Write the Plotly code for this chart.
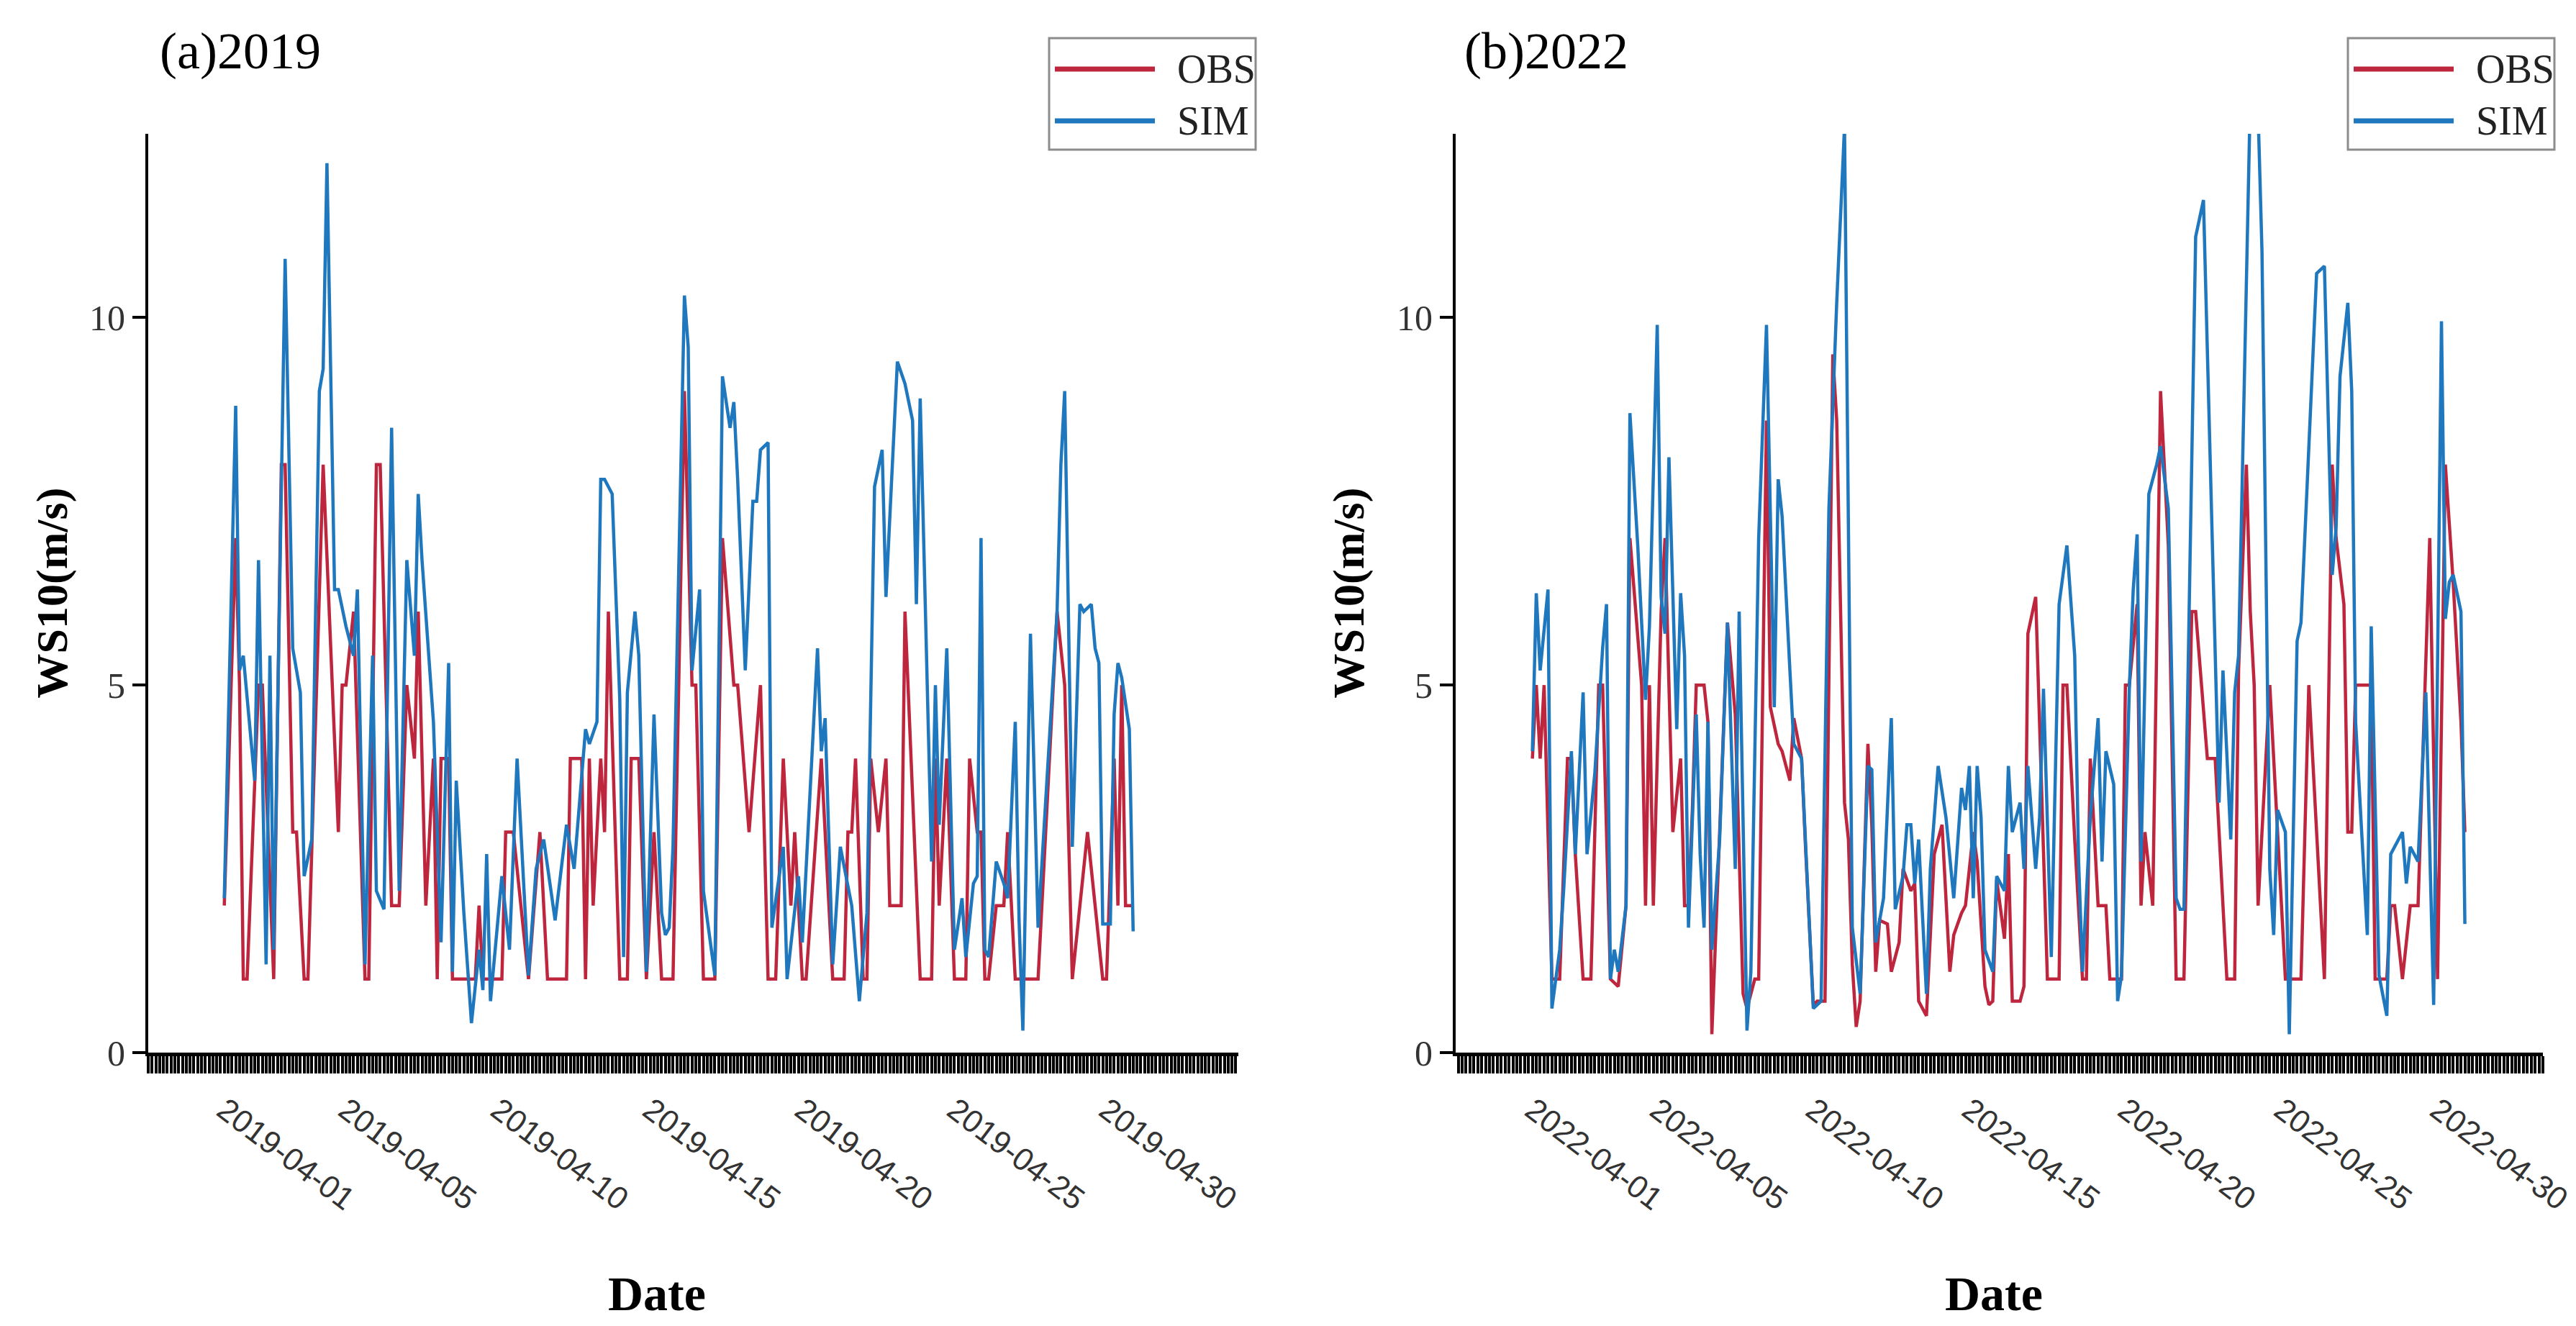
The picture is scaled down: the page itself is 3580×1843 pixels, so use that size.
import pandas as pd
import plotly.graph_objects as go

W, H = 3580, 1843
STEP_H = 3  # hours between two samples, step 0 = 04-01 00:00

RED = "rgb(190,38,62)"
BLUE = "rgb(31,119,190)"

# (step, wind speed m/s)
obs_2019 = [(0, 2), (3, 7), (4, 5), (5, 1), (6, 1), (9, 5), (10, 5), (13, 1), (15, 8), (16, 8),
            (18, 3), (19, 3), (21, 1), (22, 1), (26, 8), (30, 3), (31, 5), (32, 5), (34, 6), (37, 1),
            (38, 1), (40, 8), (41, 8), (44, 2), (46, 2), (48, 5), (50, 4), (51, 6), (53, 2), (55, 4),
            (56, 1), (57, 4), (59, 4), (60, 1), (63, 1), (66, 1), (67, 2), (68, 1), (73, 1), (74, 3),
            (76, 3), (80, 1), (83, 3), (85, 1), (90, 1), (91, 4), (94, 4), (95, 1), (96, 4), (97, 2),
            (99, 4), (100, 3), (101, 6), (104, 1), (106, 1), (107, 4), (109, 4), (111, 1), (113, 3), (115, 1),
            (118, 1), (121, 9), (123, 5), (124, 5), (126, 1), (129, 1), (131, 7), (134, 5), (135, 5), (138, 3),
            (141, 5), (143, 1), (145, 1), (147, 4), (149, 2), (150, 3), (152, 1), (153, 1), (157, 4), (160, 1),
            (163, 1), (164, 3), (165, 3), (166, 4), (168, 1), (169, 1), (170, 4), (172, 3), (174, 4), (175, 2),
            (178, 2), (179, 6), (183, 1), (186, 1), (187, 4), (188, 2), (190, 4), (192, 1), (195, 1), (196, 4),
            (198, 3), (199, 3), (200, 1), (201, 1), (203, 2), (205, 2), (206, 3), (208, 1), (209, 1), (214, 1),
            (219, 6), (221, 5), (223, 1), (225, 2), (227, 3), (231, 1), (232, 1), (234, 4), (235, 2), (236, 5),
            (237, 2), (239, 2)]

sim_2019 = [(0, 2.1), (3, 8.8), (4, 5.2), (5, 5.4), (8, 3.7), (9, 6.7), (11, 1.2), (12, 5.4), (13, 1.4), (16, 10.8),
            (18, 5.5), (20, 4.9), (21, 2.4), (23, 2.9), (25, 9.0), (26, 9.3), (27, 12.1), (29, 6.3), (30, 6.3), (32, 5.8),
            (34, 5.4), (35, 6.3), (37, 1.2), (39, 5.4), (40, 2.2), (42, 1.95), (44, 8.5), (46, 2.2), (48, 6.7), (50, 5.4),
            (51, 7.6), (52, 6.7), (55, 4.5), (57, 1.5), (59, 5.3), (60, 1.1), (61, 3.7), (63, 1.9), (65, 0.4), (67, 1.4),
            (68, 0.85), (69, 2.7), (70, 0.7), (73, 2.4), (75, 1.4), (77, 4.0), (80, 1.05), (82, 2.5), (84, 2.9), (87, 1.8),
            (90, 3.1), (92, 2.5), (95, 4.4), (96, 4.2), (98, 4.5), (99, 7.8), (100, 7.8), (102, 7.6), (104, 4.8), (105, 1.3),
            (106, 4.9), (108, 6.0), (109, 5.4), (111, 1.1), (113, 4.6), (115, 1.9), (116, 1.6), (117, 1.7), (118, 2.8), (121, 10.3),
            (122, 9.6), (123, 5.2), (125, 6.3), (126, 2.2), (129, 1.05), (131, 9.2), (133, 8.5), (134, 8.85), (135, 7.8), (137, 5.2),
            (139, 7.5), (140, 7.5), (141, 8.2), (143, 8.3), (144, 1.7), (147, 2.8), (148, 1.0), (151, 2.4), (152, 1.5), (156, 5.5),
            (157, 4.1), (158, 4.55), (160, 1.2), (162, 2.8), (165, 2.0), (167, 0.7), (169, 1.9), (171, 7.7), (173, 8.2), (174, 6.2),
            (177, 9.4), (179, 9.1), (181, 8.6), (182, 6.1), (183, 8.9), (186, 2.6), (187, 5.0), (188, 3.1), (190, 5.5), (192, 1.4),
            (194, 2.1), (195, 1.3), (197, 2.3), (198, 2.4), (199, 7.0), (200, 1.4), (201, 1.3), (203, 2.6), (205, 2.3), (206, 2.1),
            (208, 4.5), (209, 1.8), (210, 0.3), (212, 5.7), (214, 1.7), (216, 3.4), (219, 6.0), (220, 8.0), (221, 9.0), (223, 2.8),
            (225, 6.1), (226, 6.0), (228, 6.1), (229, 5.5), (230, 5.3), (231, 1.75), (233, 1.75), (234, 4.6), (235, 5.3), (236, 5.1),
            (238, 4.4), (239, 1.65)]

obs_2022 = [(0, 4), (1, 5), (2, 4), (3, 5), (5, 1), (7, 1), (9, 4), (10, 4), (11, 2.7), (13, 1),
            (15, 1), (17, 5), (18, 5), (20, 1), (22, 0.9), (24, 2), (25, 7), (28, 5), (29, 2), (30, 5),
            (31, 2), (33, 6), (34, 7), (36, 3), (38, 4), (39, 2), (40, 2), (41, 3.3), (42, 5), (44, 5),
            (45, 4.5), (46, 0.25), (48, 3), (50, 5.85), (52, 4.6), (54, 0.8), (55, 0.6), (57, 1), (58, 1), (60, 8.6),
            (61, 4.7), (63, 4.2), (64, 4.1), (66, 3.7), (67, 4.55), (69, 4.0), (70, 2.8), (72, 0.65), (73, 0.7), (75, 0.7),
            (77, 9.5), (78, 8.6), (80, 3.4), (81, 2.9), (82, 1.2), (83, 0.35), (84, 0.7), (86, 4.2), (87, 3.1), (88, 1.1),
            (89, 1.8), (91, 1.75), (92, 1.1), (94, 1.5), (95, 2.5), (97, 2.2), (98, 2.3), (99, 0.7), (101, 0.5), (103, 2.7),
            (105, 3.1), (107, 1.1), (108, 1.6), (110, 1.9), (111, 2.0), (113, 3.0), (114, 2.6), (116, 0.9), (117, 0.65), (118, 0.7),
            (119, 2.35), (121, 1.55), (122, 2.7), (123, 0.7), (125, 0.7), (126, 0.9), (127, 5.7), (129, 6.2), (132, 1), (135, 1),
            (136, 5), (137, 5), (139, 2.9), (141, 1), (142, 1), (143, 4), (145, 2), (147, 2), (148, 1), (151, 1),
            (152, 5), (153, 5), (155, 6.1), (156, 2), (157, 3), (159, 2), (161, 9), (162, 8), (163, 6.9), (165, 1),
            (167, 1), (169, 6), (170, 6), (173, 4), (175, 4), (178, 1), (180, 1), (181, 5.2), (183, 8), (184, 6),
            (185, 5), (186, 2), (189, 5), (193, 1), (197, 1), (199, 5), (203, 1), (205, 8), (206, 7), (208, 6.1),
            (209, 3), (210, 3), (211, 5), (215, 5), (216, 1), (217, 1), (219, 1), (220, 2), (221, 2), (223, 1),
            (225, 2), (227, 2), (230, 7), (232, 1), (234, 8), (236, 6.4), (238, 4.5), (239, 3)]

sim_2022 = [(0, 4.1), (1, 6.25), (2, 5.2), (4, 6.3), (5, 0.6), (7, 1.4), (8, 2.2), (10, 4.1), (11, 2.7), (13, 4.9),
            (14, 2.7), (16, 3.8), (18, 5.5), (19, 6.1), (20, 1.0), (21, 1.4), (22, 1.1), (24, 2.0), (25, 8.7), (27, 6.9),
            (29, 4.8), (30, 5.8), (32, 9.9), (33, 6.2), (34, 5.7), (35, 8.1), (37, 4.4), (38, 6.25), (39, 5.4), (40, 1.7),
            (42, 4.6), (43, 2.7), (44, 1.7), (45, 4.5), (46, 1.4), (48, 2.9), (50, 5.85), (52, 2.5), (53, 6.0), (55, 0.3),
            (56, 1.1), (58, 7.0), (60, 9.9), (62, 4.7), (63, 7.8), (64, 7.3), (66, 5.2), (67, 4.2), (69, 4.0), (72, 0.6),
            (74, 0.7), (76, 7.4), (78, 10.2), (80, 12.6), (82, 1.7), (84, 0.8), (86, 3.9), (87, 3.85), (88, 1.5), (90, 2.1),
            (92, 4.55), (93, 1.95), (95, 2.4), (96, 3.1), (97, 3.1), (98, 2.3), (99, 2.9), (101, 0.8), (102, 2.5), (104, 3.9),
            (106, 3.2), (108, 2.1), (110, 3.6), (111, 3.3), (112, 3.9), (113, 2.1), (114, 3.9), (115, 3.2), (116, 1.4), (118, 1.1),
            (119, 2.4), (121, 2.2), (122, 3.9), (123, 3.0), (125, 3.4), (126, 2.5), (127, 3.9), (129, 2.5), (130, 3.2), (131, 4.95),
            (133, 1.3), (135, 6.1), (137, 6.9), (139, 5.4), (140, 2.6), (141, 1.1), (143, 3.2), (145, 4.55), (146, 2.6), (147, 4.1),
            (149, 3.65), (150, 0.7), (151, 1.05), (153, 4.95), (154, 6.3), (155, 7.05), (156, 2.6), (158, 7.6), (160, 8.0), (161, 8.25),
            (163, 7.4), (165, 2.1), (166, 1.95), (167, 1.95), (170, 11.1), (172, 11.6), (176, 3.4), (177, 5.2), (179, 2.9), (180, 4.9),
            (181, 5.4), (184, 13.0), (186, 12.8), (187, 10.9), (189, 2.5), (190, 1.6), (191, 3.3), (193, 3.0), (194, 0.25), (196, 5.6),
            (197, 5.85), (201, 10.6), (203, 10.7), (205, 6.5), (206, 7.15), (207, 9.2), (209, 10.2), (210, 9.0), (211, 4.5), (214, 1.6),
            (215, 5.8), (217, 1.05), (219, 0.5), (220, 2.7), (223, 3.0), (224, 2.3), (225, 2.8), (227, 2.6), (229, 4.9), (231, 0.65),
            (233, 9.95), (234, 5.9), (235, 6.4), (236, 6.5), (238, 6.0), (239, 1.75)]

label_days = ["04-01", "04-05", "04-10", "04-15", "04-20", "04-25", "04-30"]
y_ticks = [0, 5, 10]

panels = [
    dict(year=2019, obs=obs_2019, sim=sim_2019, tag="(a)2019",
         rng=("2019-03-29 12:00", "2019-05-04 08:00"), left=198, right=1713),
    dict(year=2022, obs=obs_2022, sim=sim_2022, tag="(b)2022",
         rng=("2022-03-29 13:00", "2022-05-03 09:00"), left=2015, right=3526),
]

PLOT_TOP, PLOT_BOT = 178, 1455


def fx(p):
    return p / W


def fy(p):
    return 1 - p / H


fig = go.Figure()
shapes, notes = [], []

for k, p in enumerate(panels):
    sfx = "" if k == 0 else str(k + 1)
    t0 = pd.Timestamp(f"{p['year']}-04-01")
    for name, series, color in (("OBS", p["obs"], RED), ("SIM", p["sim"], BLUE)):
        steps, vals = zip(*series)
        fig.add_trace(go.Scatter(
            x=[t0 + pd.Timedelta(hours=STEP_H * s) for s in steps],
            y=list(vals),
            mode="lines",
            name=name,
            line=dict(color=color, width=4.5),
            showlegend=False,
            xaxis="x" + sfx,
            yaxis="y" + sfx,
        ))

    # one tick every 3 h, labels only on a few days
    tv = pd.date_range(pd.Timestamp(p["rng"][0]).ceil("3h"), p["rng"][1], freq="3h")
    tt = [d.strftime("%Y-%m-%d") if (d.hour == 0 and d.strftime("%m-%d") in label_days) else "" for d in tv]

    fig.layout["xaxis" + sfx] = dict(
        type="date", domain=[fx(p["left"]), fx(p["right"])], range=list(p["rng"]),
        anchor="y" + sfx, showline=True, linecolor="black", linewidth=5,
        ticks="outside", ticklen=24, tickwidth=3.6, tickcolor="black",
        tickmode="array", tickvals=list(tv), ticktext=tt, tickangle=37,
        tickfont=dict(family="Liberation Sans", size=44, color="#333333"),
        ticklabelstandoff=8, ticklabeloverflow="allow",
        showgrid=False, zeroline=False, automargin=False,
    )
    fig.layout["yaxis" + sfx] = dict(
        domain=[fy(PLOT_BOT), fy(PLOT_TOP)], range=[0, 12.5], anchor="x" + sfx,
        tickmode="array", tickvals=y_ticks, ticks="outside", ticklen=18, tickwidth=4,
        tickcolor="black", showline=True, linecolor="black", linewidth=4,
        tickfont=dict(family="Liberation Serif", size=50, color="#333333"),
        showgrid=False, zeroline=False, automargin=False,
    )

    off = p["left"] - 198
    notes.append(dict(text=p["tag"], x=fx(212 + off - (4 if k else 0)), y=fy(63), xanchor="left", yanchor="middle",
                      font=dict(family="Liberation Serif", size=72, color="black")))
    notes.append(dict(text="<b>WS10(m/s)</b>", x=fx(64 + off - 15 * k), y=fy((PLOT_TOP + PLOT_BOT) / 2),
                      textangle=-90, xanchor="center", yanchor="middle",
                      font=dict(family="Liberation Serif", size=62, color="black")))
    notes.append(dict(text="<b>Date</b>", x=fx(905 + off + 41 * k), y=fy(1790), xanchor="center", yanchor="middle",
                      font=dict(family="Liberation Serif", size=68, color="black")))

    # legend box
    lx = 1450 + 1805 * k
    shapes.append(dict(type="rect", xref="paper", yref="paper", x0=fx(lx), x1=fx(lx + 287),
                       y0=fy(200), y1=fy(45), line=dict(color="#8c8c8c", width=3), fillcolor="white"))
    for name, color, yy in (("OBS", RED, 88), ("SIM", BLUE, 160)):
        shapes.append(dict(type="line", xref="paper", yref="paper", x0=fx(lx + 8), x1=fx(lx + 147),
                           y0=fy(yy), y1=fy(yy), line=dict(color=color, width=7)))
        notes.append(dict(text=name, x=fx(lx + 176), y=fy(yy), xanchor="left", yanchor="middle",
                          font=dict(family="Liberation Serif", size=56, color="#222222")))

for n in notes:
    n.update(xref="paper", yref="paper", showarrow=False)

fig.update_layout(
    width=W, height=H,
    margin=dict(l=0, r=0, t=0, b=0),
    paper_bgcolor="white", plot_bgcolor="white",
    shapes=shapes, annotations=notes,
    showlegend=False,
)

fig.write_html("out.html")
